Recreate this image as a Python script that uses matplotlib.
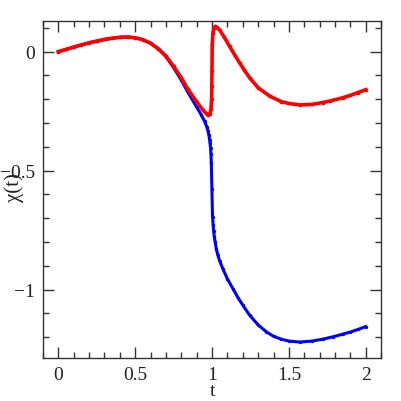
import matplotlib
matplotlib.use("Agg")
import matplotlib.pyplot as plt
from matplotlib.ticker import MultipleLocator

# values
t_blue = [0.0, 0.05, 0.1, 0.15, 0.2, 0.25, 0.3, 0.35, 0.4, 0.45, 0.5, 0.55,
          0.6, 0.65, 0.7, 0.75, 0.8, 0.842, 0.9, 0.93, 0.951, 0.965, 0.973,
          0.979, 0.984, 0.987, 0.99, 0.993, 0.995, 0.999, 1.003, 1.007, 1.01,
          1.015, 1.02, 1.028, 1.038, 1.05, 1.07, 1.1, 1.136, 1.17, 1.2, 1.244,
          1.3, 1.353, 1.4, 1.45, 1.5, 1.57, 1.65, 1.72, 1.787, 1.85, 1.9,
          1.95, 2.0]
chi_blue = [0.0, 0.009, 0.019, 0.028, 0.037, 0.044, 0.051, 0.056, 0.060,
            0.061, 0.058, 0.050, 0.035, 0.012, -0.021, -0.068, -0.120,
            -0.170, -0.233, -0.266, -0.292, -0.315, -0.332, -0.350, -0.370,
            -0.386, -0.403, -0.432, -0.466, -0.577, -0.693, -0.73, -0.752,
            -0.78, -0.80, -0.83, -0.856, -0.88, -0.912, -0.955, -0.996,
            -1.035, -1.065, -1.107, -1.148, -1.177, -1.196, -1.208, -1.216,
            -1.220, -1.216, -1.208, -1.198, -1.187, -1.178, -1.167, -1.155]

t_red = [0.0, 0.05, 0.1, 0.15, 0.2, 0.25, 0.3, 0.35, 0.4, 0.45, 0.5, 0.55,
         0.6, 0.65, 0.7, 0.75, 0.8, 0.842, 0.9, 0.94, 0.96, 0.975, 0.986,
         0.993, 0.997, 0.9985, 0.9995, 1.001, 1.006, 1.013, 1.021, 1.035,
         1.05, 1.08, 1.114, 1.15, 1.179, 1.21, 1.244, 1.3, 1.375, 1.45, 1.5,
         1.57, 1.65, 1.72, 1.765, 1.85, 1.9, 1.95, 2.0]
chi_red = [0.0, 0.009, 0.019, 0.028, 0.037, 0.044, 0.051, 0.056, 0.060,
           0.061, 0.058, 0.050, 0.035, 0.012, -0.019, -0.062, -0.110,
           -0.157, -0.211, -0.245, -0.259, -0.268, -0.262, -0.24, -0.2,
           -0.145, -0.082, 0.029, 0.080, 0.100, 0.106, 0.101, 0.090, 0.060,
           0.022, -0.017, -0.047, -0.078, -0.110, -0.152, -0.187, -0.210,
           -0.218, -0.224, -0.222, -0.214, -0.208, -0.194, -0.184, -0.172,
           -0.160]

plt.rcParams['font.family'] = ['Liberation Serif', 'DejaVu Serif']

fig = plt.figure(figsize=(4.02, 4.02), dpi=100)
ax = fig.add_axes([0.107, 0.107, 0.841, 0.838])

ax.plot(t_blue, chi_blue, '-', color='blue', lw=2.2, marker='o', ms=2.4,
        markeredgewidth=0)
ax.plot(t_red, chi_red, '-', color='red', lw=2.6, marker='o', ms=2.6,
        markeredgewidth=0)

ax.set_xlim(-0.1, 2.1)
ax.set_ylim(-1.287, 0.128)

ax.xaxis.set_minor_locator(MultipleLocator(0.1))
ax.yaxis.set_minor_locator(MultipleLocator(0.1))
ax.set_xticks([0, 0.5, 1, 1.5, 2])
ax.set_xticklabels(['0', '0.5', '1', '1.5', '2'])
ax.set_yticks([-1, -0.5, 0])
ax.set_yticklabels(['\u22121', '\u22120.5', '0'])

ax.tick_params(which='both', direction='in', top=True, right=True,
               color='#333333', width=1.0, labelsize=14, labelcolor='#222222')
ax.tick_params(which='major', length=8, pad=6)
ax.tick_params(which='minor', length=4.3)
for s in ax.spines.values():
    s.set_color('#333333')
    s.set_linewidth(1.0)

ax.set_xlabel('t', fontsize=14, color='#222222')
ax.set_ylabel('\u03c7(t)', fontsize=15, color='#222222')
ax.xaxis.set_label_coords(0.5, -0.11)
ax.xaxis.label.set_va('baseline')
ax.yaxis.set_label_coords(-0.056, 0.51)

fig.savefig('out.png', dpi=100)
